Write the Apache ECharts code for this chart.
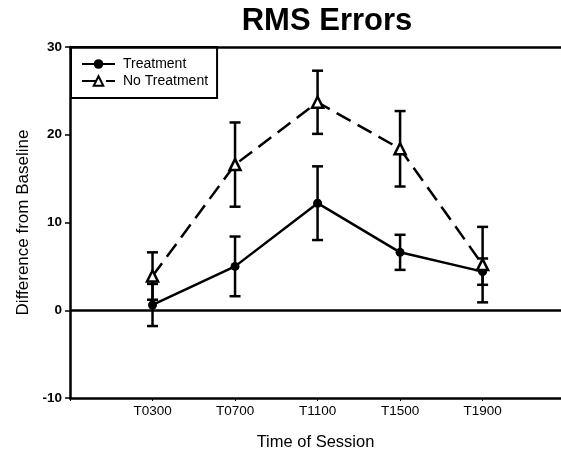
<!DOCTYPE html>
<html><head><meta charset="utf-8">
<script src="https://cdn.jsdelivr.net/npm/echarts@6/dist/echarts.min.js"></script>
<style>html,body{margin:0;padding:0;background:#fff}#c{width:561px;height:454px}</style>
</head><body><div id="c"></div>
<script>
var categories = ['T0300','T0700','T1100','T1500','T1900'];
var treatment = [0.6, 5.0, 12.2, 6.6, 4.4];
var treatmentErr = [2.4, 3.4, 4.2, 2.0, 1.5];
var noTreatment = [3.9, 16.6, 23.7, 18.4, 5.2];
var noTreatmentErr = [2.7, 4.8, 3.6, 4.3, 4.3];
var yTicks = [-10, 0, 10, 20, 30];

var chart = echarts.init(document.getElementById('c'));
function pts(vals){ return vals.map(function(v,i){ return [i+1, v]; }); }
function errData(vals, errs){ return vals.map(function(v,i){ return [i+1, v-errs[i], v+errs[i]]; }); }
function errRender(params, api){
  var x = api.value(0);
  var lo = api.coord([x, api.value(1)]);
  var hi = api.coord([x, api.value(2)]);
  var w = 5.5;
  var st = {stroke:'#000', lineWidth:2.5};
  return {type:'group', children:[
    {type:'line', shape:{x1:lo[0],y1:lo[1],x2:hi[0],y2:hi[1]}, style:st},
    {type:'line', shape:{x1:lo[0]-w,y1:lo[1],x2:lo[0]+w,y2:lo[1]}, style:st},
    {type:'line', shape:{x1:hi[0]-w,y1:hi[1],x2:hi[0]+w,y2:hi[1]}, style:st}
  ]};
}
var font = 'Liberation Sans, Arial, sans-serif';
chart.setOption({
  animation:false,
  title:{text:'RMS Errors', left:322, textAlign:'center', top:1,
    textStyle:{fontFamily:font, fontSize:31, fontWeight:'bold', color:'#000'}},
  legend:{orient:'vertical', left:71, top:47, itemWidth:33, itemHeight:12, itemGap:3,
    borderColor:'#000', borderWidth:2, padding:[10,9,10,10],
    data:['Treatment','No Treatment'],
    textStyle:{fontFamily:font, fontSize:14, color:'#000', padding:[0,0,0,3]}},
  grid:{left:70, right:0, top:47, bottom:56, containLabel:false, outerBoundsMode:'none'},
  xAxis:[{type:'value', min:0, max:5.95, interval:1, position:'bottom',
    name:'Time of Session', nameLocation:'middle', nameGap:36,
    nameTextStyle:{fontFamily:font, fontSize:16.5, color:'#000'},
    axisLine:{show:true, onZero:false, lineStyle:{color:'#000', width:2.5}},
    axisTick:{show:true, length:3, lineStyle:{color:'#000'}},
    axisLabel:{margin:6, fontFamily:font, fontSize:13.5, color:'#000',
      formatter:function(v){ return categories[Math.round(v)-1] || ''; }},
    splitLine:{show:false}},
   {type:'value', min:0, max:5.95, position:'top',
    axisLine:{show:true, onZero:false, lineStyle:{color:'#000', width:2.5}},
    axisTick:{show:false}, axisLabel:{show:false}, splitLine:{show:false}}],
  yAxis:{type:'value', min:yTicks[0], max:yTicks[yTicks.length-1], interval:10,
    name:'Difference from Baseline', nameLocation:'middle', nameGap:35,
    nameTextStyle:{fontFamily:font, fontSize:17, color:'#000'},
    axisLine:{show:true, onZero:false, lineStyle:{color:'#000', width:2.5}},
    axisTick:{show:true, length:5, lineStyle:{color:'#000', width:1.5}},
    axisLabel:{margin:8, fontFamily:font, fontSize:13.5, fontWeight:'bold', color:'#000'},
    splitLine:{show:false}},
  series:[
    {type:'custom', name:'errT', renderItem:errRender, data:errData(treatment, treatmentErr), z:3, silent:true},
    {type:'custom', name:'errN', renderItem:errRender, data:errData(noTreatment, noTreatmentErr), z:3, silent:true},
    {type:'line', name:'Treatment', data:pts(treatment), symbol:'circle', symbolSize:9,
      itemStyle:{color:'#000'}, lineStyle:{color:'#000', width:2.5}, z:4,
      markLine:{silent:true, symbol:'none', label:{show:false},
        lineStyle:{color:'#000', type:'solid', width:2.5}, data:[{yAxis:0}]}},
    {type:'line', name:'No Treatment', data:pts(noTreatment), symbol:'triangle', symbolSize:11,
      itemStyle:{color:'#fff', borderColor:'#000', borderWidth:2.5},
      lineStyle:{color:'#000', width:2.5, type:[16,8]}, z:5}
  ]
});
</script></body></html>
